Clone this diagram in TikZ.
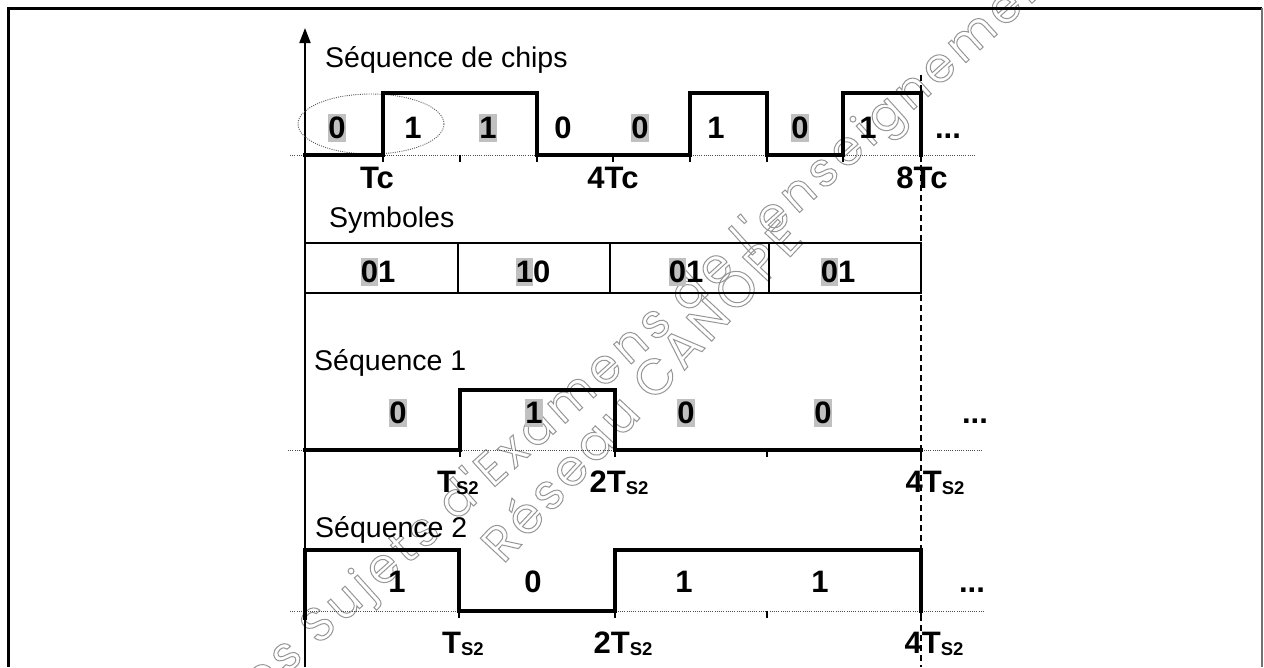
\documentclass[tikz,border=0pt]{standalone}
\usepackage{fontspec}
\setmainfont{Liberation Sans}
\newfontfamily\wmfonta[LetterSpace=10]{Poppins}
\newfontfamily\wmfontb[LetterSpace=8]{Poppins}
\usetikzlibrary{arrows.meta}
\definecolor{hlgray}{RGB}{192,192,192}
\definecolor{wmgray}{RGB}{150,150,150}
\newcommand{\hlbox}[1]{{\setlength{\fboxsep}{0pt}\colorbox{hlgray}{\rule[-4pt]{0pt}{28.5pt}#1}}}
\newcommand{\tss}{T{\fontsize{18.5}{18}\selectfont\raisebox{-2.5pt}{S2}}}
\newcommand{\outl}[1]{\special{pdf:literal direct 1 Tr 1 w}#1\special{pdf:literal direct 0 Tr}}
\tikzset{
  sig/.style={line width=3.2pt, line cap=rect},
  tick/.style={line width=2.2pt},
  baseln/.style={line width=0.9pt, dash pattern=on 1pt off 1.2pt, black!70},
  lbl/.style={font=\bfseries\fontsize{31}{34}\selectfont, anchor=base, inner sep=0pt},
  ttl/.style={font=\fontsize{28.5}{34}\selectfont, anchor=base west, inner sep=0pt},
  wma/.style={font=\wmfonta\fontsize{48}{52}\selectfont, text=wmgray, inner sep=0pt},
  wmb/.style={font=\wmfontb\fontsize{50}{54}\selectfont, text=wmgray, inner sep=0pt}
}
\begin{document}
\begin{tikzpicture}[x=1pt,y=-1pt]
\useasboundingbox (0,0) rectangle (1264,667);
% watermark
\node[wma, anchor=base east, rotate=42] (wm1) at (305,658) {\outl{des}};
\node[wma, anchor=base west, rotate=42] (wm2) at (318,646) {\outl{Sujets d'Examens de l'enseignement}};
\node[wmb, anchor=base west, rotate=47] (wm3) at (503,565) {\outl{Réseau CANOPE}};
% frame
\draw[line width=3pt] (8,667) -- (8,8) -- (1262,8);
\draw[line width=2pt, black!55] (1262,8) -- (1262,667);
% axis
\draw[line width=2pt, -{Triangle[length=15pt,width=11pt]}] (305,667) -- (305,28);
% dashed marker
\draw[line width=1.2pt, dash pattern=on 6pt off 4pt] (921,75) -- (921,667);
% ---- chips
\node[ttl] (tchips) at (325,67) {Séquence de chips};
\draw[baseln] (290,155) -- (975,155);
\draw[line width=0.9pt, dash pattern=on 1pt off 1.2pt, black!65] (371,124) ellipse [x radius=73pt, y radius=30pt];
\draw[sig] (305,155) -- (383,155) -- (383,93) -- (537,93) -- (537,155) -- (690,155) -- (690,93) -- (767,93) -- (767,155) -- (843,155) -- (843,93) -- (921,93) -- (921,155);
\foreach \x in {383,460,537,613,690,767,843,921} \draw[tick] (\x,155) -- (\x,162);
\node[lbl] (c1) at (337,138) {\hlbox{0}};
\node[lbl] (c2) at (413,138) {1};
\node[lbl] (c3) at (488,138) {\hlbox{1}};
\node[lbl] (c4) at (563,138) {0};
\node[lbl] (c5) at (640,138) {\hlbox{0}};
\node[lbl] (c6) at (716,138) {1};
\node[lbl] (c7) at (800,138) {\hlbox{0}};
\node[lbl] (c8) at (868,138) {1};
\node[lbl] (cdots) at (948,138) {...};
\node[lbl] (tc1) at (377,188) {Tc};
\node[lbl] (tc4) at (613,188) {4Tc};
\node[lbl] (tc8) at (922,188) {8Tc};
% ---- symbols
\node[ttl] (tsym) at (329,227) {Symboles};
\draw[line width=2.6pt] (305,243) rectangle (921,293);
\foreach \x in {458,610,769} \draw[line width=2.6pt] (\x,243) -- (\x,293);
\node[lbl] (s1) at (378,282) {\hlbox{0}1};
\node[lbl] (s2) at (533,282) {\hlbox{1}0};
\node[lbl] (s3) at (686,282) {\hlbox{0}1};
\node[lbl] (s4) at (838,282) {\hlbox{0}1};
% ---- sequence 1
\node[ttl] (tseq1) at (314,370) {Séquence 1};
\draw[baseln] (288,450) -- (983,450);
\draw[sig] (305,450) -- (460,450) -- (460,390) -- (615,390) -- (615,450) -- (921,450);
\foreach \x in {460,615,767,921} \draw[tick] (\x,450) -- (\x,457);
\node[lbl] (a1) at (398,423) {\hlbox{0}};
\node[lbl] (a2) at (534,423) {\hlbox{1}};
\node[lbl] (a3) at (686,423) {\hlbox{0}};
\node[lbl] (a4) at (823,423) {\hlbox{0}};
\node[lbl] (adots) at (975,423) {...};
\node[lbl] (at1) at (458,492) {\tss};
\node[lbl] (at2) at (619,492) {2\tss};
\node[lbl] (at4) at (935,492) {4\tss};
% ---- sequence 2
\node[ttl] (tseq2) at (315,537) {Séquence 2};
\draw[baseln] (290,611) -- (985,611);
\draw[sig] (305,618) -- (305,550) -- (459,550) -- (459,611) -- (615,611) -- (615,550) -- (921,550) -- (921,611);
\foreach \x in {459,615,767,921} \draw[tick] (\x,611) -- (\x,618);
\node[lbl] (b1) at (397,592) {1};
\node[lbl] (b2) at (533,592) {0};
\node[lbl] (b3) at (684,592) {1};
\node[lbl] (b4) at (820,592) {1};
\node[lbl] (bdots) at (972,592) {...};
\node[lbl] (bt1) at (463,653) {\tss};
\node[lbl] (bt2) at (623,653) {2\tss};
\node[lbl] (bt4) at (934,653) {4\tss};
\end{tikzpicture}
\end{document}
